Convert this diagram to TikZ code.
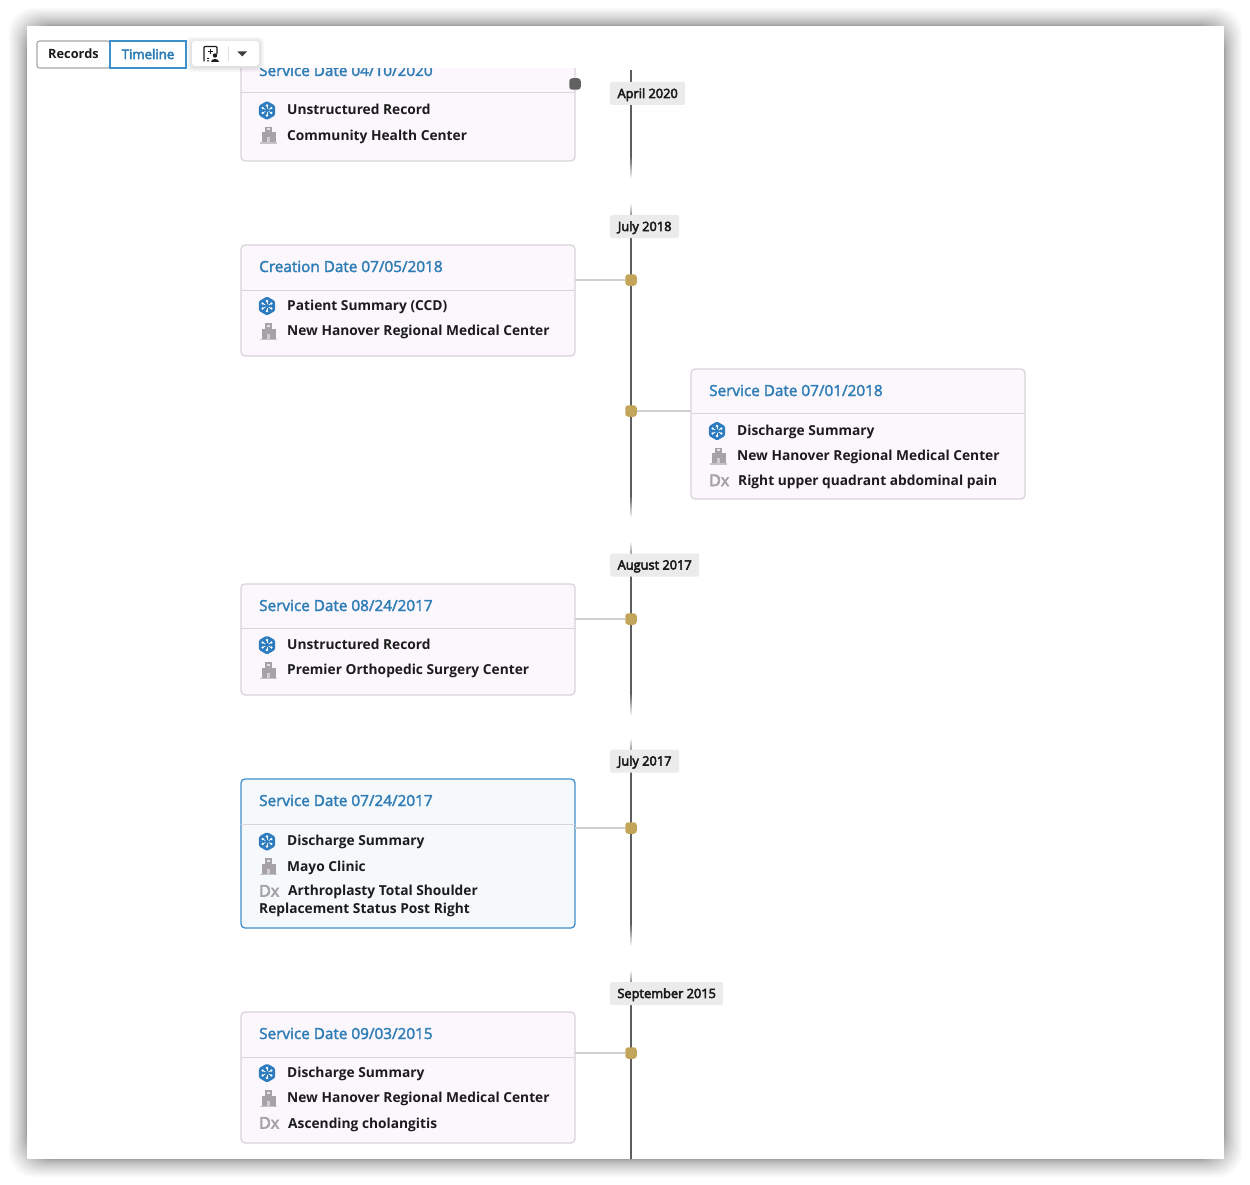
\documentclass[tikz,border=0pt]{standalone}
\usepackage{fontspec}
\setmainfont{Open Sans}
\newfontfamily\titlef[FakeBold=2.2]{Open Sans}
\newfontfamily\chipf[FakeBold=4]{Open Sans}
\usetikzlibrary{calc}
\definecolor{linkblue}{HTML}{2F7DB6}
\definecolor{cardedge}{HTML}{D8D5DB}
\definecolor{cardfill}{HTML}{FBF7FC}
\definecolor{selfill}{HTML}{F5F9FC}
\definecolor{seledge}{HTML}{3F8FCB}
\definecolor{inkc}{HTML}{1C1C1C}
\definecolor{railc}{HTML}{5E5E5E}
\definecolor{dotc}{HTML}{C2A558}
\definecolor{chipc}{HTML}{EBEBEB}
\definecolor{iconblue}{HTML}{2E7CC0}
\definecolor{icongrey}{HTML}{A6A3A8}
\tikzset{
  x=1pt,y=-1pt,
  card/.style={draw=cardedge,fill=cardfill,line width=1.3pt,rounded corners=4pt,anchor=north west,minimum width=334pt,inner sep=0pt,outer sep=0pt},
  selcard/.style={card,draw=seledge,fill=selfill},
  divider/.style={draw=cardedge,line width=1pt},
  cardtitle/.style={anchor=base west,inner sep=0pt,text=linkblue,font=\titlef\fontsize{15.3}{17}\selectfont},
  cardline/.style={anchor=base west,inner sep=0pt,text=inkc,font=\bfseries\fontsize{13.75}{16}\selectfont},
  dxmark/.style={anchor=base west,inner sep=0pt,text=icongrey,font=\chipf\fontsize{16}{16}\selectfont},
  chip/.style={fill=chipc,rounded corners=2pt,anchor=west,inner sep=0pt,minimum height=23pt,text height=9pt,text depth=0pt,text=inkc,font=\chipf\fontsize{12.8}{14}\selectfont},
  dotn/.style={fill=dotc,rounded corners=3pt,minimum size=11.5pt,inner sep=0pt},
  rail/.style={draw=railc,line width=2pt},
  link/.style={draw=black!19,line width=2.2pt},
  hexicon/.pic={
    \fill[iconblue,rounded corners=1.5pt] (0,-9.5)--(8.2,-4.8)--(8.2,4.8)--(0,9.5)--(-8.2,4.8)--(-8.2,-4.8)--cycle;
    \foreach \a in {30,90,...,330}{\draw[white,line width=.7pt] (0,0) -- (\a:5);\fill[white] (\a:5) circle[radius=1.3];}
    \fill[iconblue] (0,0) circle[radius=2];
  },
  bldicon/.pic={
    \fill[icongrey] (-7,-3) rectangle (7,7);
    \fill[icongrey] (-3.5,-8.5) rectangle (3.5,-3);
    \fill[icongrey!65] (-8.5,7) rectangle (8.5,8.7);
    \fill[white!70!icongrey] (-1.5,-7) rectangle (1.5,-5);
    \fill[white!45!icongrey] (-1.6,2) rectangle (1.6,7);
  },
}
% fade-out of a rail, from (x,y) downwards; fade-in, up to (x,y)
\newcommand{\railfade}[2]{\foreach \k in {0,...,9}{\pgfmathsetmacro{\p}{100-\k*10}\draw[draw=railc!\p!white,line width=2pt] (#1,#2+\k*2.2) -- (#1,#2+\k*2.2+2.2);}}
\newcommand{\railin}[2]{\foreach \k in {0,...,5}{\pgfmathsetmacro{\p}{65-\k*11}\draw[draw=railc!\p!white,line width=2pt] (#1,#2-\k*2) -- (#1,#2-\k*2-2);}}
\begin{document}
\begin{tikzpicture}
\useasboundingbox (0,0) rectangle (1250,1185);
\fill[white] (0,0) rectangle (1250,1185);
% window shadow
\foreach \i in {20,19,...,1}{
  \pgfmathsetmacro{\e}{\i*\i/22}
  \fill[black,opacity=.022,rounded corners=26pt] (27-\e,26-\e) rectangle (1224+\e,1159+\e);
}
\fill[white] (27,26) rectangle (1224,1159);

% cards
\node[card,minimum height=113pt] (c0) at (241,48) {};
\node[card,minimum height=111pt] (c1) at (241,245) {};
\node[card,minimum height=130pt] (c2) at (691,369) {};
\node[card,minimum height=111pt] (c3) at (241,584) {};
\node[selcard,minimum height=149pt] (c4) at (241,779) {};
\node[card,minimum height=131pt] (c5) at (241,1012) {};
\draw[divider] (c0.west |- 0,93) -- (c0.east |- 0,93);
\draw[divider] (c1.west |- 0,290) -- (c1.east |- 0,290);
\draw[divider] (c2.west |- 0,413) -- (c2.east |- 0,413);
\draw[divider] (c3.west |- 0,628) -- (c3.east |- 0,628);
\draw[divider] (c4.west |- 0,824) -- (c4.east |- 0,824);
\draw[divider] (c5.west |- 0,1057) -- (c5.east |- 0,1057);

% timeline rails
\coordinate (r1a) at (630.5,70);  \coordinate (r1b) at (630.5,156);
\coordinate (r2a) at (630.5,215); \coordinate (r2b) at (630.5,495);
\coordinate (r3a) at (630.5,554); \coordinate (r3b) at (630.5,693);
\coordinate (r4a) at (630.5,750); \coordinate (r4b) at (630.5,923);
\coordinate (r5a) at (630.5,982); \coordinate (r5b) at (630.5,1159);
\draw[rail] (r1a) -- (r1b);
\draw[rail] (r2a) -- (r2b);
\draw[rail] (r3a) -- (r3b);
\draw[rail] (r4a) -- (r4b);
\draw[rail] (r5a) -- (r5b);
\railfade{630.5}{156}
\railfade{630.5}{495}
\railfade{630.5}{693}
\railfade{630.5}{923}
\railin{630.5}{216}
\railin{630.5}{555}
\railin{630.5}{751}
\railin{630.5}{983}

% month chips
\node[chip,minimum width=75pt]  (m0) at (610,93.5) {April 2020};
\node[chip,minimum width=69pt]  (m1) at (610,226.5) {July 2018};
\node[chip,minimum width=89pt]  (m2) at (610,565) {August 2017};
\node[chip,minimum width=69pt]  (m3) at (610,761) {July 2017};
\node[chip,minimum width=113pt] (m4) at (610,993.5) {September 2015};

% dots and their connectors
\node[dotn,fill=black!62] (d0) at (575,84) {};
\node[dotn] (d1) at (631,280) {};
\node[dotn] (d2) at (631,411) {};
\node[dotn] (d3) at (631,619) {};
\node[dotn] (d4) at (631,828) {};
\node[dotn] (d5) at (631,1053) {};
\draw[link] (c1.east |- d1) -- (d1);
\draw[link] (d2) -- (c2.west |- d2);
\draw[link] (c3.east |- d3) -- (d3);
\draw[link] (c4.east |- d4) -- (d4);
\draw[link] (c5.east |- d5) -- (d5);

% card 0
\node[cardtitle] (t0) at (259,76) {Service Date 04/10/2020};
\pic at (267,110.5) {hexicon};
\node[cardline] (a0) at (287,115) {Unstructured Record};
\pic at (268.5,135.5) {bldicon};
\node[cardline] (b0) at (287,140.5) {Community Health Center};
% mask above card 0, under the toolbar
\fill[white] (200,27) rectangle (600,68);

% card 1
\node[cardtitle] (t1) at (259,272) {Creation Date 07/05/2018};
\pic at (267,306) {hexicon};
\node[cardline] (a1) at (287,310) {Patient Summary (CCD)};
\pic at (268.5,331.5) {bldicon};
\node[cardline] (b1) at (287,335) {New Hanover Regional Medical Center};

% card 2
\node[cardtitle] (t2) at (709,396) {Service Date 07/01/2018};
\pic at (717,431) {hexicon};
\node[cardline] (a2) at (737,435) {Discharge Summary};
\pic at (718.5,456) {bldicon};
\node[cardline] (b2) at (737,460) {New Hanover Regional Medical Center};
\node[dxmark] (x2) at (709,486) {Dx};
\node[cardline] (e2) at (738,485) {Right upper quadrant abdominal pain};

% card 3
\node[cardtitle] (t3) at (259,611) {Service Date 08/24/2017};
\pic at (267,645) {hexicon};
\node[cardline] (a3) at (287,649) {Unstructured Record};
\pic at (268.5,670.5) {bldicon};
\node[cardline] (b3) at (287,674) {Premier Orthopedic Surgery Center};

% card 4
\node[cardtitle] (t4) at (259,806) {Service Date 07/24/2017};
\pic at (267,841.5) {hexicon};
\node[cardline] (a4) at (287,845.5) {Discharge Summary};
\pic at (268.5,866.5) {bldicon};
\node[cardline] (b4) at (287,871) {Mayo Clinic};
\node[dxmark] (x4) at (259,896.5) {Dx};
\node[cardline] (e4) at (288,895) {Arthroplasty Total Shoulder};
\node[cardline] (f4) at (259,913) {Replacement Status Post Right};

% card 5
\node[cardtitle] (t5) at (259,1039) {Service Date 09/03/2015};
\pic at (267,1073) {hexicon};
\node[cardline] (a5) at (287,1077) {Discharge Summary};
\pic at (268.5,1098.5) {bldicon};
\node[cardline] (b5) at (287,1102) {New Hanover Regional Medical Center};
\node[dxmark] (x5) at (259,1128.5) {Dx};
\node[cardline] (e5) at (288,1128) {Ascending cholangitis};

% toolbar
\node[draw=black!35,fill=white,rounded corners=2.5pt,line width=1.1pt,anchor=north west,minimum width=73pt,minimum height=27pt,inner sep=0pt,outer sep=0pt,text height=9pt,text depth=0pt,text=inkc,font=\fontsize{12.8}{14}\selectfont\bfseries] (rec) at (37,41) {Records};
\node[draw=seledge,fill=white,line width=1.5pt,anchor=north west,minimum width=76pt,minimum height=27pt,inner sep=0pt,outer sep=0pt,text height=9pt,text depth=0pt,text=linkblue,font=\chipf\fontsize{13.2}{14}\selectfont] (tml) at (110,41) {Timeline};
\foreach \i in {5,4,3,2,1}{\fill[black,opacity=.022,rounded corners=4pt] (192-\i,41-\i+1) rectangle (259+\i,66+\i+1);}
\fill[white,rounded corners=3pt] (192,41) rectangle (259,66);
\draw[black!12,line width=1pt] (228.5,46) -- (228.5,61);
\draw[inkc,line width=1.1pt,rounded corners=1pt] (204,61.5) -- (204,46.5) -- (217,46.5) -- (217,54);
\draw[inkc,line width=1pt] (210,49.5) -- (210,54.5) (207.5,52) -- (212.5,52);
\fill[inkc] (215,55.5) circle[radius=2.2];
\fill[inkc] (211,62) .. controls (211,58) and (219,58) .. (219,62) -- cycle;
\fill[inkc] (207,58) rectangle (209,59) (207,60.5) rectangle (209,61.5);
\fill[black!75] (237.5,51.5) -- (247,51.5) -- (242.2,56.5) -- cycle;
\end{tikzpicture}
\end{document}
